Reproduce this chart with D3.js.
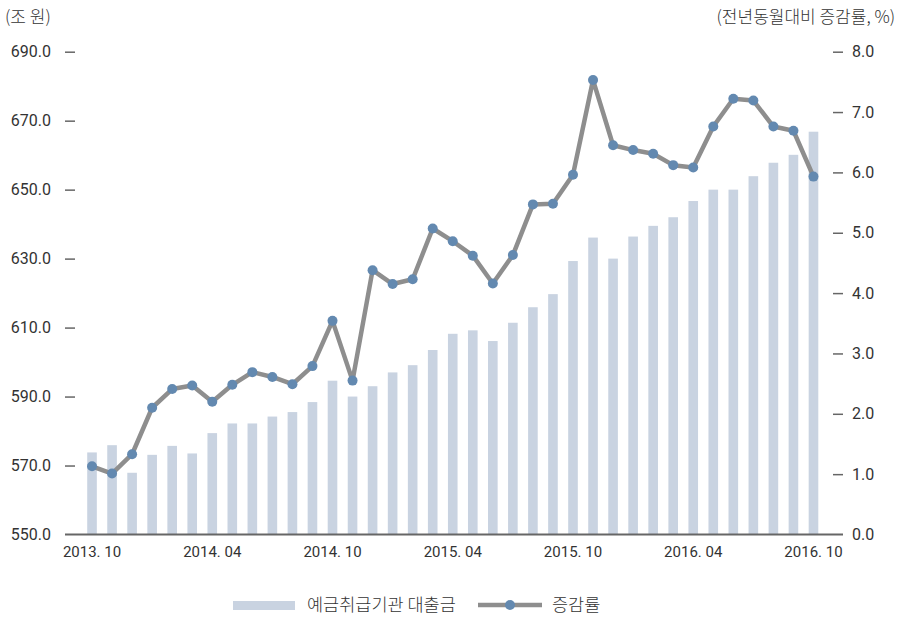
<!DOCTYPE html>
<html>
<head>
<meta charset="utf-8">
<script src="https://cdn.jsdelivr.net/npm/d3@7"></script>
<style>
    body { margin: 0; background: #fff; }
    svg text { fill: #333; }
    .num { font-family: Roboto, "Noto Sans", sans-serif; }
    .kor { font-family: "Noto Sans CJK KR", sans-serif; font-weight: 300; }
</style>
</head>
<body>
<div id="chart"></div>
<script>
// months 2013.10 ~ 2016.10
const months = ["2013.10","2013.11","2013.12","2014.01","2014.02","2014.03","2014.04","2014.05","2014.06",
    "2014.07","2014.08","2014.09","2014.10","2014.11","2014.12","2015.01","2015.02","2015.03","2015.04",
    "2015.05","2015.06","2015.07","2015.08","2015.09","2015.10","2015.11","2015.12","2016.01","2016.02",
    "2016.03","2016.04","2016.05","2016.06","2016.07","2016.08","2016.09","2016.10"];

// 예금취급기관 대출금 (조 원)
const loans = [573.8, 575.9, 567.9, 573.1, 575.7, 573.5, 579.4, 582.2, 582.2, 584.2, 585.5, 588.4, 594.6,
    590.0, 593.0, 597.0, 599.1, 603.5, 608.2, 609.2, 606.1, 611.4, 615.9, 619.7, 629.3, 636.1, 630.0,
    636.4, 639.5, 642.0, 646.7, 650.0, 650.0, 653.9, 657.8, 660.1, 666.8];

// 증감률 (전년동월대비, %)
const growth = [1.13, 1.01, 1.33, 2.10, 2.41, 2.47, 2.20, 2.48, 2.69, 2.61, 2.49, 2.79, 3.54, 2.55, 4.38,
    4.15, 4.23, 5.07, 4.86, 4.62, 4.16, 4.63, 5.47, 5.48, 5.96, 7.53, 6.45, 6.37, 6.31, 6.12, 6.08, 6.76,
    7.22, 7.19, 6.76, 6.69, 5.93];

const leftTicks = [550, 570, 590, 610, 630, 650, 670, 690];
const rightTicks = [0, 1, 2, 3, 4, 5, 6, 7, 8];
const xLabelIdx = [0, 6, 12, 18, 24, 30, 36];

const width = 900, height = 617;
const axisLeftX = 65, axisRightX = 843;
const plotTop = 51.7, plotBottom = 534.5;

const svg = d3.select("#chart").append("svg")
    .attr("width", width)
    .attr("height", height);

const x = d3.scaleBand()
    .domain(d3.range(months.length))
    .range([82, 823.5])
    .paddingInner(0.52)
    .paddingOuter(0.26);

const yL = d3.scaleLinear().domain([550, 690]).range([plotBottom, plotTop]);
const yR = d3.scaleLinear().domain([0, 8]).range([plotBottom, plotTop]);

const barColor = "#c9d3e1", lineColor = "#8e8e8e", dotColor = "#6389b0";

// bars
svg.append("g")
    .selectAll("rect")
    .data(loans)
    .join("rect")
    .attr("x", (d, i) => x(i))
    .attr("y", d => yL(d))
    .attr("width", x.bandwidth())
    .attr("height", d => yL(550) - yL(d))
    .attr("fill", barColor);

// left axis
const leftAxis = svg.append("g")
    .attr("transform", `translate(${axisLeftX},0)`)
    .call(d3.axisLeft(yL).tickValues(leftTicks).tickFormat(d3.format(".1f")).tickSize(0).tickPadding(14));
leftAxis.select(".domain").remove();
leftAxis.selectAll(".tick text").attr("class", "num").style("font-size", "16px").attr("fill", "#333");
leftAxis.selectAll(".tick").filter(d => d !== 550).append("line")
    .attr("x1", 0).attr("x2", 10).attr("stroke", "#666").attr("stroke-width", 1.5);

// right axis
const rightAxis = svg.append("g")
    .attr("transform", `translate(${axisRightX},0)`)
    .call(d3.axisRight(yR).tickValues(rightTicks).tickFormat(d3.format(".1f")).tickSize(0).tickPadding(9));
rightAxis.select(".domain").remove();
rightAxis.selectAll(".tick text").attr("class", "num").style("font-size", "16px").attr("fill", "#333");
rightAxis.selectAll(".tick").filter(d => d !== 0).append("line")
    .attr("x1", -10).attr("x2", 0).attr("stroke", "#666").attr("stroke-width", 1.5);

// x axis
const xAxis = svg.append("g")
    .attr("transform", `translate(0,${plotBottom})`)
    .call(d3.axisBottom(x).tickValues(xLabelIdx).tickSize(0).tickPadding(12)
        .tickFormat(i => months[i].replace(".", ". ")));
xAxis.select(".domain").remove();
xAxis.selectAll(".tick text").attr("class", "num").style("font-size", "15px").attr("fill", "#333");

svg.append("line")
    .attr("x1", axisLeftX).attr("x2", axisRightX)
    .attr("y1", plotBottom).attr("y2", plotBottom)
    .attr("stroke", "#666").attr("stroke-width", 2);

// growth line
const line = d3.line()
    .x((d, i) => x(i) + x.bandwidth() / 2)
    .y(d => yR(d));

svg.append("path")
    .datum(growth)
    .attr("d", line)
    .attr("fill", "none")
    .attr("stroke", lineColor)
    .attr("stroke-width", 4.5)
    .attr("stroke-linejoin", "round");

svg.append("g")
    .selectAll("circle")
    .data(growth)
    .join("circle")
    .attr("cx", (d, i) => x(i) + x.bandwidth() / 2)
    .attr("cy", d => yR(d))
    .attr("r", 5)
    .attr("fill", dotColor);

// unit titles
svg.append("text")
    .attr("class", "kor")
    .attr("x", 5).attr("y", 23)
    .style("font-size", "17px")
    .text("(조 원)");

svg.append("text")
    .attr("class", "kor")
    .attr("x", 895).attr("y", 23)
    .attr("text-anchor", "end")
    .style("font-size", "17px")
    .text("(전년동월대비 증감률, %)");

// legend
const legend = svg.append("g");
legend.append("rect")
    .attr("x", 233).attr("y", 601).attr("width", 62).attr("height", 9)
    .attr("fill", barColor);
legend.append("text")
    .attr("class", "kor")
    .attr("x", 307).attr("y", 611)
    .style("font-size", "17.5px")
    .text("예금취급기관 대출금");
legend.append("line")
    .attr("x1", 478).attr("x2", 542).attr("y1", 605).attr("y2", 605)
    .attr("stroke", lineColor).attr("stroke-width", 4.5);
legend.append("circle")
    .attr("cx", 510).attr("cy", 605).attr("r", 5)
    .attr("fill", dotColor);
legend.append("text")
    .attr("class", "kor")
    .attr("x", 552).attr("y", 611)
    .style("font-size", "17.5px")
    .text("증감률");
</script>
</body>
</html>
